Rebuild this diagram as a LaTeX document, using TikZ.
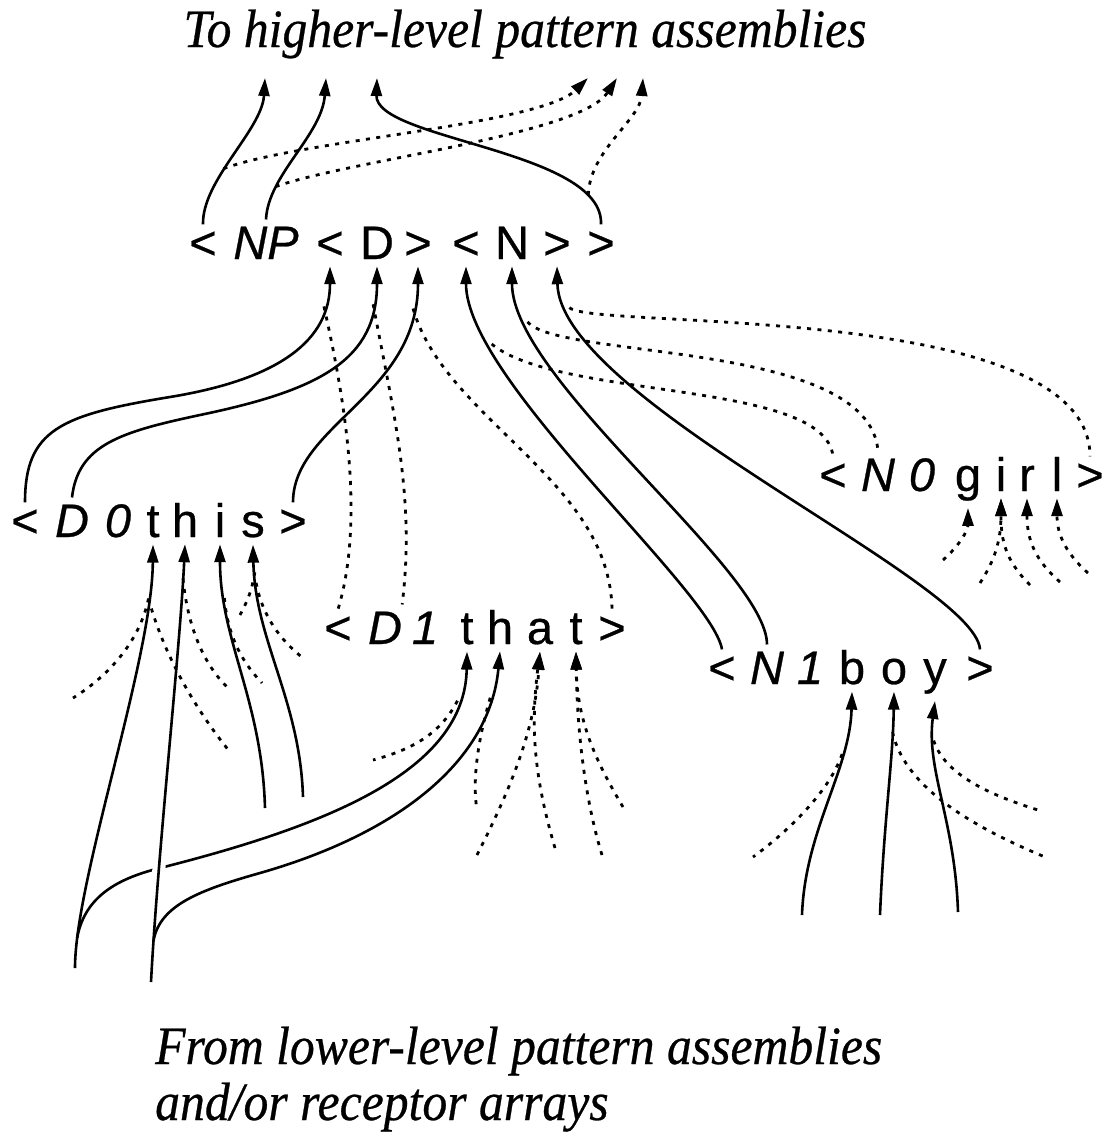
\documentclass[tikz,border=0pt]{standalone}
\usepackage{fontspec}
\setmainfont{Liberation Serif}
\newfontfamily\tokfont[FakeBold=0.6]{Liberation Sans}
\newfontfamily\capfont[FakeStretch=0.92,FakeBold=0.5]{Liberation Serif}
\usetikzlibrary{arrows.meta}

\begin{document}
\begin{tikzpicture}
      [x=1pt,y=-1pt,
       tok/.style={font=\tokfont\fontsize{47}{47}\selectfont,anchor=base,inner xsep=0pt,inner ysep=7pt},
       caption/.style={font=\capfont\fontsize{54}{54}\selectfont\itshape,inner sep=0pt},
       wire/.style={line width=2.6pt},
       dots/.style={line width=2.8pt,dash pattern=on 4pt off 6.4pt},
       tip/.style={-{Triangle[length=18pt,width=11pt]}}]
        \useasboundingbox (0,0) rectangle (1106,1138);

        \node[caption,anchor=base] (up) at (525,47) {To higher-level pattern assemblies};
        \node[caption,anchor=base west] (low1) at (155,1064) {From lower-level pattern assemblies};
        \node[caption,anchor=base west] (low2) at (155,1120) {and/or receptor arrays};

        % < NP < D > < N > >
        \node[tok] (np1) at (203,259) {<};
        \node[tok] (np2) at (266,259) {\itshape NP};
        \node[tok] (np3) at (330,259) {<};
        \node[tok] (np4) at (377,259) {D};
        \node[tok] (np5) at (418,259) {>};
        \node[tok] (np6) at (466,259) {<};
        \node[tok] (np7) at (512,259) {N};
        \node[tok] (np8) at (557,259) {>};
        \node[tok] (np9) at (601,259) {>};

        % < D 0 t h i s >
        \node[tok] (th1) at (25,537) {<};
        \node[tok] (th2) at (72,537) {\itshape D};
        \node[tok] (th3) at (118,537) {\itshape 0};
        \node[tok] (th4) at (153,537) {t};
        \node[tok] (th5) at (185,537) {h};
        \node[tok] (th6) at (220,537) {i};
        \node[tok] (th7) at (253,537) {s};
        \node[tok] (th8) at (293,537) {>};

        % < D 1 t h a t >
        \node[tok] (ta1) at (338,644) {<};
        \node[tok] (ta2) at (385,644) {\itshape D};
        \node[tok] (ta3) at (425,644) {\itshape 1};
        \node[tok] (ta4) at (467,644) {t};
        \node[tok] (ta5) at (500,644) {h};
        \node[tok] (ta6) at (540,644) {a};
        \node[tok] (ta7) at (576,644) {t};
        \node[tok] (ta8) at (612,644) {>};

        % < N 0 g i r l >
        \node[tok] (gi1) at (833,491) {<};
        \node[tok] (gi2) at (878,491) {\itshape N};
        \node[tok] (gi3) at (922,491) {\itshape 0};
        \node[tok] (gi4) at (968,491) {g};
        \node[tok] (gi5) at (1001,491) {i};
        \node[tok] (gi6) at (1027,491) {r};
        \node[tok] (gi7) at (1057,491) {l};
        \node[tok] (gi8) at (1090,491) {>};

        % < N 1 b o y >
        \node[tok] (bo1) at (722,684) {<};
        \node[tok] (bo2) at (767,684) {\itshape N};
        \node[tok] (bo3) at (810,684) {\itshape 1};
        \node[tok] (bo4) at (852,684) {b};
        \node[tok] (bo5) at (894,684) {o};
        \node[tok] (bo6) at (935,684) {y};
        \node[tok] (bo7) at (980,684) {>};

        % loose ends
        \coordinate (up1) at (265,78);
        \coordinate (up2) at (326,78);
        \coordinate (up3) at (377,78);
        \coordinate (up4) at (588,78);
        \coordinate (up5) at (617,78);
        \coordinate (up6) at (643,78);
        \coordinate (in1) at (75,968);
        \coordinate (in2) at (151,982);
        \coordinate (in3) at (265,808);
        \coordinate (in4) at (303,797);
        \coordinate (in5) at (802,915);
        \coordinate (in6) at (880,915);
        \coordinate (in7) at (958,912);
        \coordinate (f1) at (73,698);
        \coordinate (f2) at (230,752);
        \coordinate (f3) at (227,687);
        \coordinate (f4) at (262,683);
        \coordinate (f5) at (240,615);
        \coordinate (f6) at (303,658);
        \coordinate (f7) at (373,760);
        \coordinate (f8) at (477,810);
        \coordinate (f9) at (477,855);
        \coordinate (f10) at (555,848);
        \coordinate (f11) at (623,807);
        \coordinate (f12) at (602,855);
        \coordinate (f13) at (943,560);
        \coordinate (f14) at (980,583);
        \coordinate (f15) at (1030,585);
        \coordinate (f16) at (1060,582);
        \coordinate (f17) at (1088,573);
        \coordinate (f18) at (753,857);
        \coordinate (f19) at (1045,857);
        \coordinate (f20) at (1038,810);

        % up from NP
        \draw[wire,tip] (np1.north) .. controls (202,180) and (262,130) .. (up1) coordinate[pos=.4] (t1);
        \draw[wire,tip] (np2.north) .. controls (268,175) and (322,135) .. (up2) coordinate[pos=.25] (t2);
        \draw[wire,tip] (np9.north) .. controls (604,150) and (375,140) .. (up3) coordinate[pos=.15] (t3);
        \draw[dots,tip] (t1) .. controls (300,140) and (540,125) .. (up4);
        \draw[dots,tip] (t2) .. controls (350,160) and (580,135) .. (up5);
        \draw[dots,tip] (t3) .. controls (590,150) and (640,120) .. (up6);

        % into < D >
        \draw[wire,tip] (th1.north) .. controls (25,430) and (60,415) .. (170,397) .. controls (280,379) and (330,340) .. (np3.south) coordinate[pos=.8] (a1);
        \draw[wire,tip] (th2.north) .. controls (78,445) and (120,432) .. (200,415) .. controls (320,390) and (377,360) .. (np4.south) coordinate[pos=.85] (a2);
        \draw[wire,tip] (th8.north) .. controls (293,425) and (418,395) .. (np5.south) coordinate[pos=.88] (a3);
        \draw[dots] (a1) .. controls (345,400) and (365,520) .. (ta1.north);
        \draw[dots] (a2) .. controls (395,420) and (415,500) .. (ta2.north east);
        \draw[dots] (a3) .. controls (445,420) and (610,480) .. (ta8.north);

        % into < N >
        \draw[wire,tip] (bo1.north) .. controls (712,590) and (466,380) .. (np6.south) coordinate[pos=.8] (n1);
        \draw[wire,tip] (bo2.north) .. controls (767,570) and (512,380) .. (np7.south) coordinate[pos=.85] (n2);
        \draw[wire,tip] (bo7.north) .. controls (975,580) and (560,400) .. (np8.south) coordinate[pos=.9] (n3);
        \draw[dots] (n1) .. controls (560,400) and (825,380) .. (gi1.north);
        \draw[dots] (n2) .. controls (560,360) and (870,340) .. (gi2.north);
        \draw[dots] (n3) .. controls (590,330) and (1090,300) .. (gi8.north);

        % this / that
        \draw[wire,tip] (in1) .. controls (75,880) and (152,660) .. (th4.south) coordinate[pos=.1] (x1) coordinate[pos=.86] (x2);
        \draw[wire,tip] (x1) .. controls (85,895) and (120,878) .. (160,868) .. controls (330,825) and (465,770) .. (ta4.south) coordinate[pos=.85] (x3);
        \draw[wire,tip,preaction={draw=white,line width=13pt,-}] (in2) .. controls (158,850) and (180,650) .. (th5.south) coordinate[pos=.1] (x4) coordinate[pos=.9] (x5);
        \draw[wire,tip] (x4) .. controls (160,905) and (200,890) .. (260,873) .. controls (400,833) and (490,760) .. (ta5.south) coordinate[pos=.85] (x6);
        \draw[wire,tip] (in3) .. controls (262,700) and (220,640) .. (th6.south) coordinate[pos=.8] (x7);
        \draw[wire,tip] (in4) .. controls (300,700) and (255,640) .. (th7.south) coordinate[pos=.9] (x8) coordinate[pos=.86] (x9);
        \draw[dots] (x2) .. controls (140,640) and (110,675) .. (f1);
        \draw[dots] (x2) .. controls (165,660) and (200,715) .. (f2);
        \draw[dots] (x5) .. controls (188,630) and (205,665) .. (f3);
        \draw[dots] (x7) .. controls (228,640) and (245,665) .. (f4);
        \draw[dots] (x8) .. controls (252,590) and (248,600) .. (f5);
        \draw[dots] (x9) .. controls (262,615) and (280,640) .. (f6);
        \draw[dots] (x3) .. controls (440,735) and (410,750) .. (f7);
        \draw[dots] (x6) .. controls (478,740) and (472,780) .. (f8);
        \draw[dots,tip] (f9) .. controls (510,790) and (535,730) .. (ta6.south);
        \draw[dots,tip] (f10) .. controls (535,780) and (530,730) .. (ta6.south);
        \draw[dots,tip] (f11) .. controls (595,760) and (577,720) .. (ta7.south);
        \draw[dots,tip] (f12) .. controls (585,800) and (577,730) .. (ta7.south);

        % girl
        \draw[dots,tip] (f13) .. controls (960,545) and (968,530) .. (gi4.south);
        \draw[dots,tip] (f14) .. controls (995,560) and (1001,540) .. (gi5.south);
        \draw[dots,tip] (f15) .. controls (1005,560) and (1001,540) .. (gi5.south);
        \draw[dots,tip] (f16) .. controls (1035,560) and (1027,540) .. (gi6.south);
        \draw[dots,tip] (f17) .. controls (1062,550) and (1057,530) .. (gi7.south);

        % boy
        \draw[wire,tip] (in5) .. controls (805,830) and (850,770) .. (bo4.south) coordinate[pos=.72] (x10);
        \draw[wire,tip] (in6) .. controls (884,820) and (893,760) .. (bo5.south) coordinate[pos=.8] (x11);
        \draw[wire,tip] (in7) .. controls (955,820) and (926,770) .. (bo6.south) coordinate[pos=.8] (x12);
        \draw[dots] (x10) .. controls (830,790) and (790,830) .. (f18);
        \draw[dots] (x11) .. controls (905,790) and (980,830) .. (f19);
        \draw[dots] (x12) .. controls (945,775) and (990,795) .. (f20);

      \end{tikzpicture}
\end{document}
